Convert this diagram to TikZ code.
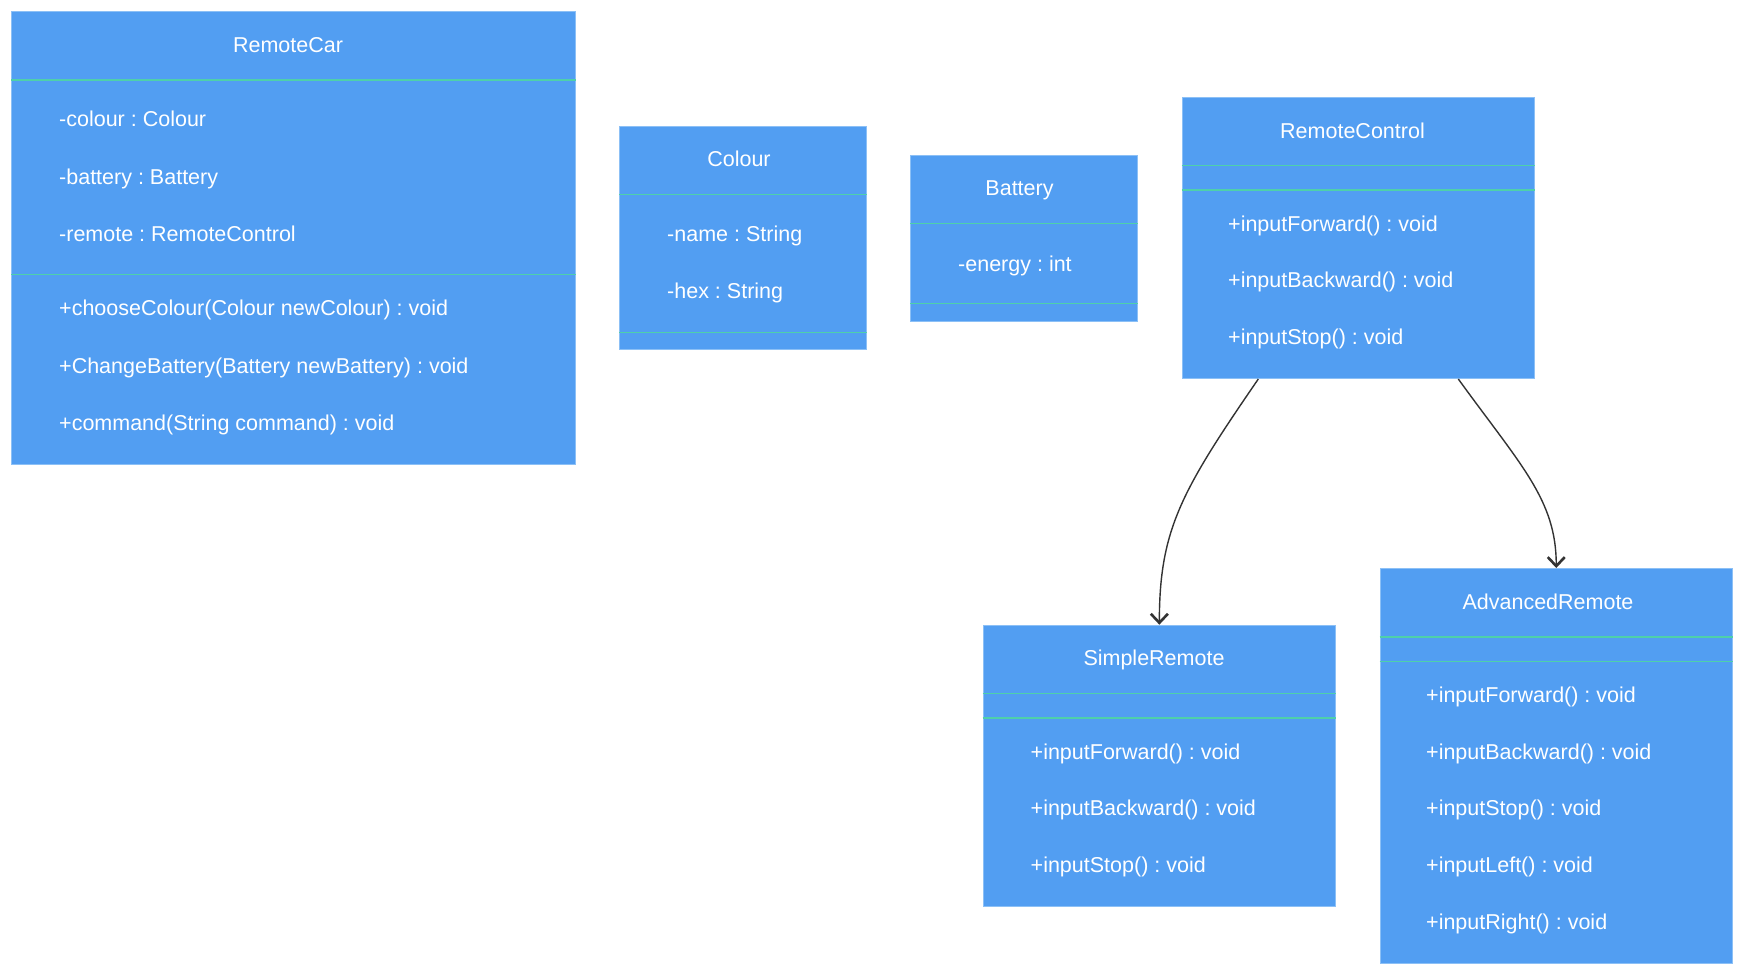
\documentclass[tikz,border=0pt]{standalone}
\usepackage{fontspec}
\setmainfont{Liberation Sans}
\usetikzlibrary{arrows.meta,calc}
\frenchspacing

\definecolor{boxfill}{RGB}{82,158,242}
\definecolor{boxedge}{RGB}{140,192,246}
\definecolor{sepline}{RGB}{78,208,170}
\definecolor{linkcol}{RGB}{51,51,51}

\tikzset{
  classbox/.style={draw=boxedge, line width=1pt, fill=boxfill, anchor=north west,
    inner sep=0pt, rectangle},
  member/.style={anchor=west, text=white, inner sep=0pt, text height=15.4pt,
    text depth=0pt, font=\fontsize{21.5}{26}\selectfont},
  classtitle/.style={member, anchor=center},
  sep/.style={draw=sepline, line width=1.6pt},
  link/.style={draw=linkcol, line width=1.4pt,
    -{Straight Barb[length=9pt,width=17pt,line width=2.6pt]}}
}

\begin{document}
\begin{tikzpicture}[x=1pt,y=-1pt]
\useasboundingbox[fill=white] (0,0) rectangle (1743,975);

% RemoteCar
\node[classbox, minimum width=564pt, minimum height=453pt] (car) at (11,11) {};
\node[classtitle] (carT) at (288,44.5) {RemoteCar};
\draw[sep] (car.west |- 0,80) -- (car.east |- 0,80);
\draw[sep] (car.west |- 0,274.6) -- (car.east |- 0,274.6);
\node[member] (car1) at (59,119) {-colour : Colour};
\node[member] (car2) at (59,176.7) {-battery : Battery};
\node[member] (car3) at (59,233.4) {-remote : RemoteControl};
\node[member] (car4) at (59,308) {+chooseColour(Colour newColour) : void};
\node[member] (car5) at (59,365.7) {+ChangeBattery(Battery newBattery) : void};
\node[member] (car6) at (59,422.4) {+command(String command) : void};

% Colour
\node[classbox, minimum width=247pt, minimum height=223.4pt] (col) at (619,125.6) {};
\node[classtitle] (colT) at (739,159) {Colour};
\draw[sep] (col.west |- 0,194.5) -- (col.east |- 0,194.5);
\draw[sep] (col.west |- 0,332.4) -- (col.east |- 0,332.4);
\node[member] (col1) at (667,233.4) {-name : String};
\node[member] (col2) at (667,291.2) {-hex : String};

% Battery
\node[classbox, minimum width=227pt, minimum height=166.5pt] (bat) at (910,154.5) {};
\node[classtitle] (batT) at (1019.5,188) {Battery};
\draw[sep] (bat.west |- 0,223.4) -- (bat.east |- 0,223.4);
\draw[sep] (bat.west |- 0,303.5) -- (bat.east |- 0,303.5);
\node[member] (bat1) at (958,263.4) {-energy : int};

% RemoteControl
\node[classbox, minimum width=352.4pt, minimum height=281.3pt] (rc) at (1181.6,96.7) {};
\node[classtitle] (rcT) at (1352.5,131) {RemoteControl};
\draw[sep] (rc.west |- 0,165.6) -- (rc.east |- 0,165.6);
\draw[sep] (rc.west |- 0,190) -- (rc.east |- 0,190);
\node[member] (rc1) at (1228,223.4) {+inputForward() : void};
\node[member] (rc2) at (1228,280) {+inputBackward() : void};
\node[member] (rc3) at (1228,336.8) {+inputStop() : void};

% SimpleRemote
\node[classbox, minimum width=352.3pt, minimum height=281.3pt] (sr) at (982.7,624.7) {};
\node[classtitle] (srT) at (1154,658) {SimpleRemote};
\draw[sep] (sr.west |- 0,693.6) -- (sr.east |- 0,693.6);
\draw[sep] (sr.west |- 0,718) -- (sr.east |- 0,718);
\node[member] (sr1) at (1030.5,751.4) {+inputForward() : void};
\node[member] (sr2) at (1030.5,808) {+inputBackward() : void};
\node[member] (sr3) at (1030.5,864.8) {+inputStop() : void};

% AdvancedRemote
\node[classbox, minimum width=352.5pt, minimum height=394.6pt] (ar) at (1379.5,568) {};
\node[classtitle] (arT) at (1548,601.4) {AdvancedRemote};
\draw[sep] (ar.west |- 0,637) -- (ar.east |- 0,637);
\draw[sep] (ar.west |- 0,661.4) -- (ar.east |- 0,661.4);
\node[member] (ar1) at (1426,694.8) {+inputForward() : void};
\node[member] (ar2) at (1426,751.4) {+inputBackward() : void};
\node[member] (ar3) at (1426,808) {+inputStop() : void};
\node[member] (ar4) at (1426,864.8) {+inputLeft() : void};
\node[member] (ar5) at (1426,921.5) {+inputRight() : void};

% Links from RemoteControl to its two variants
\draw[link] ([xshift=-100pt]rc.south) .. controls +(-77,112) and +(0,-95) .. (sr.north);
\draw[link] ([xshift=100pt]rc.south) .. controls +(63,87) and +(0,-68) .. (ar.north);
\end{tikzpicture}
\end{document}
